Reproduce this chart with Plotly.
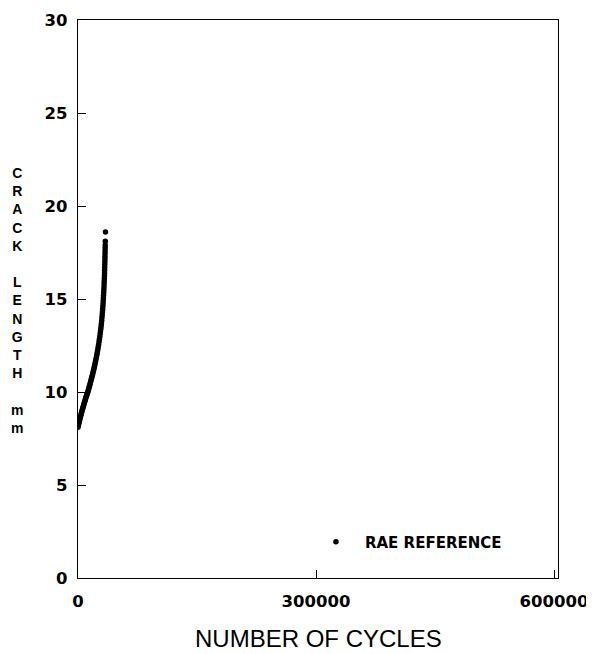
import plotly.graph_objects as go

# Data
cycles = [0, 500, 1000, 1500, 2000, 2500, 3000, 3500, 4000, 4500, 5000, 5500,
          6000, 6500, 7000, 7500, 8000, 8500, 9000, 9500, 10000, 10500, 11000,
          11500, 12000, 12500, 13000, 13500, 14000, 14500, 15000, 15500, 16000,
          16500, 17000, 17500, 18000, 18500, 19000, 19500, 20000, 20500, 21000,
          21500, 22000, 22500, 23000, 23500, 24000, 24500, 25000, 25500, 26000,
          26500, 27000, 27500, 28000, 28400, 28800, 29200, 29500, 29900, 30200,
          30500, 30800, 31100, 31300, 31600, 31800, 32000, 32200, 32400, 32600,
          32750, 32900, 33050, 33200, 33350, 33450, 33550, 33650, 33750, 33850,
          33950, 34000, 34100, 34150, 34250, 34300, 34400, 34700]
crack_mm = [8.10, 8.20, 8.30, 8.39, 8.48, 8.57, 8.65, 8.74, 8.82, 8.90, 8.98, 9.06,
            9.13, 9.21, 9.28, 9.35, 9.42, 9.49, 9.56, 9.63, 9.70, 9.77, 9.83,
            9.90, 9.96, 10.03, 10.10, 10.17, 10.25, 10.32, 10.40, 10.48, 10.56,
            10.64, 10.72, 10.80, 10.89, 10.97, 11.06, 11.15, 11.24, 11.33, 11.43,
            11.53, 11.63, 11.73, 11.84, 11.95, 12.06, 12.18, 12.30, 12.43, 12.56,
            12.70, 12.84, 12.99, 13.15, 13.28, 13.42, 13.56, 13.70, 13.85, 14.00,
            14.15, 14.30, 14.45, 14.60, 14.75, 14.90, 15.05, 15.20, 15.35, 15.50,
            15.65, 15.80, 15.95, 16.10, 16.25, 16.40, 16.55, 16.70, 16.85, 17.00,
            17.15, 17.30, 17.45, 17.60, 17.75, 17.90, 18.10, 18.60]

x_ticks = [0, 300000, 600000]
y_ticks = [0, 5, 10, 15, 20, 25, 30]
y_title = "CRACK LENGTH mm"
x_title = "NUMBER OF CYCLES"
series_name = "RAE REFERENCE"

fig = go.Figure()
fig.add_trace(go.Scatter(
    x=cycles, y=crack_mm, mode="markers", name=series_name,
    marker=dict(color="black", size=5.5),
    showlegend=True,
))

tick_font = dict(family="DejaVu Sans", size=16.5, color="black", weight="bold")

# page body has an 8px margin, so the figure is offset by 8px
fig.update_layout(
    width=586, height=646,
    margin=dict(l=70, r=36, t=12, b=76, autoexpand=False),
    paper_bgcolor="white", plot_bgcolor="white",
    showlegend=True,
    legend=dict(
        x=0.477, y=0.0645, xanchor="left", yanchor="middle",
        bgcolor="rgba(0,0,0,0)", borderwidth=0, itemwidth=48,
        font=dict(family="DejaVu Sans", size=15, color="black", weight="bold"),
    ),
    xaxis=dict(
        range=[0, 605000], tickvals=x_ticks, ticktext=[str(v) for v in x_ticks],
        ticks="inside", ticklen=8, tickcolor="black", tickwidth=1,
        showline=True, linecolor="black", linewidth=1.3, mirror=True,
        showgrid=False, zeroline=False, tickfont=tick_font,
        ticklabelstandoff=8, automargin=False, ticklabeloverflow="allow",
    ),
    yaxis=dict(
        range=[0, 30], tickvals=y_ticks,
        ticks="inside", ticklen=8, tickcolor="black", tickwidth=1,
        showline=True, linecolor="black", linewidth=1.3, mirror=True,
        showgrid=False, zeroline=False, tickfont=tick_font,
        ticklabelstandoff=6, automargin=False, ticklabeloverflow="allow",
    ),
)

# stacked vertical y-axis title
letters = []
for word in y_title.split(" "):
    letters.append("<br>".join(word))
ytxt = "<br><br>".join(letters)
fig.add_annotation(
    text=ytxt, xref="paper", yref="paper",
    x=(17 - 78) / 480, y=(578 - 301) / 558,
    xanchor="center", yanchor="middle", showarrow=False,
    font=dict(family="Liberation Sans", size=14, color="black", weight="bold"),
)
fig.add_annotation(
    text=x_title, xref="paper", yref="paper",
    x=(318 - 78) / 480, y=-(638 - 578) / 558,
    xanchor="center", yanchor="middle", showarrow=False,
    font=dict(family="Liberation Sans", size=24, color="black"),
)

fig.write_html("out.html")
